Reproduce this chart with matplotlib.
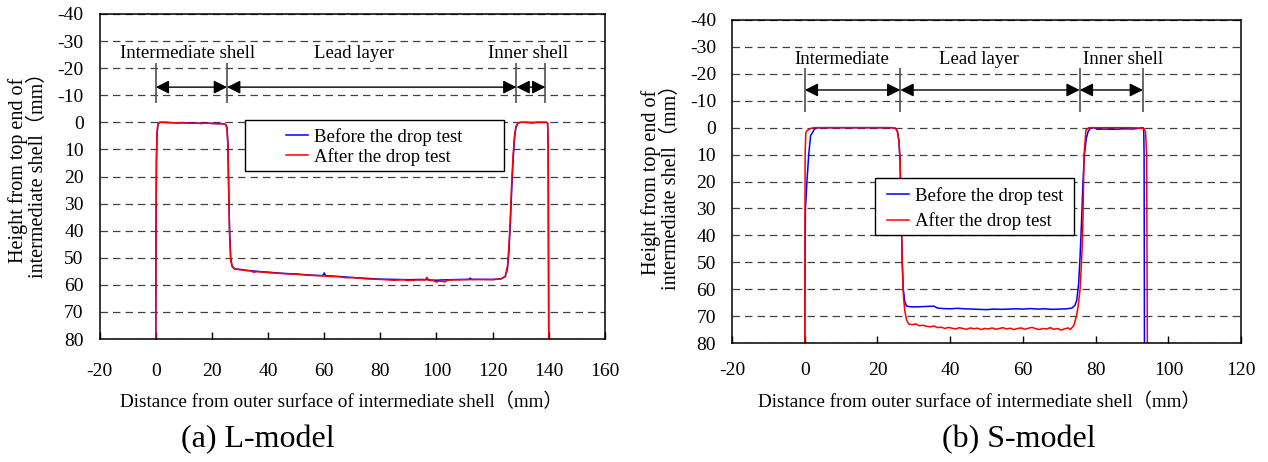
#!/usr/bin/env python3
"""Lead layer profile before and after the drop test, L-model and S-model."""
import matplotlib

matplotlib.use("Agg")
import matplotlib.pyplot as plt
from matplotlib.patches import Rectangle

plt.rcParams.update(
    {
        "font.family": ["Liberation Serif", "Noto Sans CJK JP"],
        "axes.unicode_minus": False,
        "figure.dpi": 100,
    }
)

# L-model profile (distance mm, height mm)
l_before_x = [0.0, 0.1, 0.25, 0.45, 0.7, 1.0, 1.5, 3, 5, 8, 10, 12, 14, 16, 18, 20, 22, 24,
              25.0, 25.4, 25.7, 26.0, 26.3, 26.7, 27.2, 28, 29, 30, 32, 34, 36, 38, 40, 43, 46,
              50, 55, 59.5, 60, 60.5, 62, 65, 70, 75, 80, 85, 90, 95, 98, 100, 102, 105, 110,
              111.5, 112, 112.5, 115, 120, 123, 124.5, 125.3, 125.8, 126.3, 126.8, 127.3,
              127.8, 128.3, 129, 130, 132, 134, 136, 138, 139.2, 139.6, 139.8, 140.0]
l_before_y = [82, 40, 15, 5, 1.5, 0.3, 0, 0, 0.1, 0.2, 0.1, 0.3, 0.2, 0.4, 0.3, 0.4, 0.5, 0.5,
              0.8, 2, 8, 25, 40, 50, 53, 54, 54.2, 54.3, 54.6, 54.8, 55.0, 55.2, 55.3, 55.6, 55.8,
              56.0, 56.4, 56.6, 55.6, 56.6, 56.7, 56.9, 57.3, 57.6, 57.9, 58.0, 58.1, 58.0, 58.2,
              58.3, 58.2, 58.1, 58.0, 58.0, 57.5, 58.0, 58.0, 58.0, 57.8, 57.0, 54, 48, 38, 25,
              14, 6, 2, 0.3, 0, 0, 0.2, 0, 0, 0, 0.3, 10, 82]
l_after_x = [0.0, 0.1, 0.25, 0.45, 0.7, 1.0, 1.5, 3, 5, 8, 10, 12, 14, 16, 18, 20, 22, 24,
             25.0, 25.4, 25.7, 26.0, 26.3, 26.7, 27.2, 28, 29, 30, 32, 34, 35, 36, 38, 40, 43,
             46, 50, 55, 60, 62, 65, 68, 70, 75, 80, 85, 88, 90, 93, 95, 96, 96.6, 97.2, 99,
             100, 101, 103, 104, 105, 110, 115, 120, 123, 124.5, 125.3, 125.8, 126.3, 126.8,
             127.3, 127.8, 128.3, 129, 130, 132, 134, 136, 138, 139.2, 139.6, 139.8, 140.0]
l_after_y = [82, 35, 12, 4, 1.2, 0.3, 0, 0, 0.1, 0.2, 0.2, 0.3, 0.3, 0.4, 0.3, 0.4, 0.5, 0.5,
             0.9, 2.5, 9, 26, 41, 51, 53.3, 54.1, 54.3, 54.4, 54.7, 54.9, 55.4, 55.1, 55.3, 55.5,
             55.7, 55.9, 56.1, 56.5, 56.7, 56.9, 57.0, 57.4, 57.3, 57.8, 58.0, 58.3, 58.1, 58.4,
             58.2, 58.2, 58.2, 57.2, 58.3, 58.5, 59.0, 58.6, 58.9, 58.3, 58.2, 58.1, 58.0, 58.1,
             57.8, 56.8, 53, 46, 35, 22, 12, 5, 1.5, 0.2, 0, 0, 0, 0, 0, 0, 0.3, 10, 82]

# S-model profile (distance mm, height mm)
s_before_x = [0.0, 0.1, 0.2, 0.6, 1.1, 1.6, 2.7, 3.6, 6, 10, 15, 20, 24, 25.0, 25.5, 25.9,
              26.2, 26.5, 26.8, 27.1, 27.5, 28, 29, 30, 32, 34, 35.5, 36.5, 38, 40, 42, 44, 46,
              48, 50, 52, 54, 56, 58, 60, 62, 64, 66, 68, 70, 72, 73.5, 74.3, 74.8, 75.3, 75.7,
              76.1, 76.5, 76.9, 77.4, 77.9, 78.5, 79.5, 80.5, 82, 85, 88, 90, 92, 93.0, 93.2,
              93.3, 93.4]
s_before_y = [82, 45, 30, 20, 10, 3, 0.5, 0, 0, 0, 0, 0, 0, 0.3, 1.5, 5, 12, 30, 50, 60, 64.5,
              66.3, 66.5, 66.6, 66.5, 66.4, 66.3, 67.0, 67.2, 67.3, 67.1, 67.3, 67.4, 67.5,
              67.6, 67.4, 67.5, 67.4, 67.3, 67.4, 67.2, 67.4, 67.3, 67.5, 67.4, 67.3, 67.0,
              66.0, 64, 58, 48, 35, 20, 10, 4, 1.5, 0.3, 0, 0.6, 0.5, 0.6, 0.4, 0.5, 0.2, 0,
              0.5, 10, 82]
s_after_x = [0.0, 0.1, 0.3, 0.7, 1.6, 2.5, 4, 8, 12, 16, 20, 24, 25.0, 25.5, 25.9, 26.2, 26.5,
             26.8, 27.1, 27.5, 28.0, 28.6, 29.5, 30.5, 31.5, 32.5, 33.5, 34.5, 35.5, 36.5, 37.5,
             38.5, 39.5, 40.5, 41.5, 42.5, 43.5, 44.5, 45.5, 46.5, 47.5, 48.5, 49.5, 50.5,
             51.5, 52.5, 53.5, 54.5, 55.5, 56.5, 57.5, 58.5, 59.5, 60.5, 61.5, 62.5, 63.5,
             64.5, 65.5, 66.5, 67.5, 68.5, 69.5, 70.5, 71.5, 72.5, 73.0, 74.0, 74.7, 75.2,
             75.7, 76.1, 76.4, 76.8, 77.3, 78.1, 79, 82, 86, 90, 93.2, 93.7, 94.0, 94.2]
s_after_y = [82, 10, 1.8, 1.0, 0.3, 0, 0, 0, 0, 0, 0, 0, 0.3, 1.5, 5, 12, 30, 50, 62, 68, 71.5,
             73.0, 73.2, 72.9, 73.6, 73.4, 73.8, 74.0, 73.7, 74.3, 74.1, 74.6, 74.2, 74.5,
             74.8, 74.3, 74.6, 74.9, 74.4, 74.7, 74.5, 75.0, 74.6, 74.8, 74.4, 74.9, 74.6,
             74.3, 74.8, 74.5, 75.0, 74.6, 74.4, 74.9, 74.5, 74.2, 74.7, 75.0, 74.6, 74.8,
             74.3, 74.9, 74.6, 75.2, 74.7, 74.4, 75.0, 73.5, 70, 66, 60, 50, 40, 10, 1, 0, 0,
             0, 0, 0, 0.3, 1.5, 10, 82]

series_labels = ["Before the drop test", "After the drop test"]

# region markers: boundaries along the distance axis and region names
l_bounds = [0, 25.4, 128.5, 138.8]
l_regions = ["Intermediate shell", "Lead layer", "Inner shell"]
l_region_x = [11.4, 70.7, 132.5]
s_bounds = [0, 26.3, 75.6, 93.0]
s_regions = ["Intermediate", "Lead layer", "Inner shell"]
s_region_x = [10.2, 47.8, 87.6]

y_ticks = list(range(-40, 81, 10))
l_xticks = list(range(-20, 161, 20))
s_xticks = list(range(-20, 121, 20))

X_LABEL = "Distance from outer surface of intermediate shell（mm）"
Y_LABEL = "Height from top end of\nintermediate shell（mm）"

W, H = 1268, 462


def fx(px):
    return px / W


def fy(py):
    return 1 - py / H


def setup_axes(ax, xticks, xpad):
    ax.set_xlim(xticks[0], xticks[-1])
    ax.set_ylim(80, -40)
    ax.set_xticks(xticks)
    ax.set_yticks(y_ticks)
    ax.tick_params(axis="x", direction="in", length=5, width=1, pad=xpad, labelsize=14)
    ax.tick_params(axis="y", length=0, pad=11.5, labelsize=14)
    ax.grid(axis="y", color="#404040", lw=0.9, linestyle=(0, (6, 4)))
    ax.grid(axis="x", visible=False)
    for sp in ax.spines.values():
        sp.set_linewidth(1.1)
        sp.set_color("black")
        sp.set_zorder(6)


def region_marks(ax, bounds, names, name_x, text_y, arrow_y, line_span):
    ax.vlines(bounds, line_span[0], line_span[1], colors="#505050", lw=1.2, zorder=3)
    for a, b in zip(bounds[:-1], bounds[1:]):
        ax.annotate(
            "",
            xy=(b, arrow_y),
            xytext=(a, arrow_y),
            arrowprops=dict(arrowstyle="<|-|>", color="black", lw=1.0,
                            shrinkA=0, shrinkB=0, mutation_scale=20),
            zorder=4,
        )
    for x, name in zip(name_x, names):
        ax.text(x, text_y, name, ha="center", va="center", fontsize=13.5, zorder=4)


def boxed_legend(ax, box, handle_x, row_y, spacing):
    x0, y0, x1, y1 = box
    ax.add_patch(Rectangle((x0, y0), x1 - x0, y1 - y0, transform=ax.transAxes,
                           facecolor="white", edgecolor="black", lw=1.0, zorder=7))
    leg = ax.legend(
        loc="center left",
        bbox_to_anchor=(handle_x, row_y),
        frameon=False,
        borderpad=0,
        borderaxespad=0,
        handlelength=1.2,
        handletextpad=0.3,
        labelspacing=spacing,
        fontsize=13.5,
    )
    leg.set_zorder(8)


fig = plt.figure(figsize=(W / 100, H / 100), dpi=100)

# (a) L-model
ax1 = fig.add_axes([fx(99.6), fy(339), fx(604.9 - 99.6), (339 - 14) / H])
setup_axes(ax1, l_xticks, 17)
ax1.plot(l_before_x, l_before_y, color="#0000ff", lw=1.1, label=series_labels[0], zorder=2)
ax1.plot(l_after_x, l_after_y, color="#ff0000", lw=1.1, label=series_labels[1], zorder=2)
region_marks(ax1, l_bounds, l_regions, l_region_x, -25.3, -13, (-22, -7))
boxed_legend(ax1, (0.2876, 0.517, 0.8003, 0.674), 0.3683, 0.591, 0.12)

# (b) S-model
ax2 = fig.add_axes([fx(732), fy(343), fx(1241.2 - 732), (343 - 20) / H])
setup_axes(ax2, s_xticks, 14)
ax2.plot(s_before_x, s_before_y, color="#0000ff", lw=1.1, label=series_labels[0], zorder=2)
ax2.plot(s_after_x, s_after_y, color="#ff0000", lw=1.1, label=series_labels[1], zorder=2)
region_marks(ax2, s_bounds, s_regions, s_region_x, -25.5, -14, (-22, -6))
boxed_legend(ax2, (0.2804, 0.3344, 0.6716, 0.5108), 0.304, 0.4164, 0.4)

# axis titles and panel captions
fig.text(fx(340.8), fy(402), X_LABEL, ha="center", va="center", fontsize=13.8)
fig.text(fx(979), fy(402), X_LABEL, ha="center", va="center", fontsize=13.8)
fig.text(fx(28), fy(170), Y_LABEL, rotation=90, ha="center", va="center",
         fontsize=14.5, linespacing=1.05, multialignment="center")
fig.text(fx(661), fy(182), Y_LABEL, rotation=90, ha="center", va="center",
         fontsize=14.5, linespacing=1.05, multialignment="center")
fig.text(fx(258), fy(440), "(a) L-model", ha="center", va="center", fontsize=23)
fig.text(fx(1019), fy(440), "(b) S-model", ha="center", va="center", fontsize=23)

fig.savefig("out.png", dpi=100)
